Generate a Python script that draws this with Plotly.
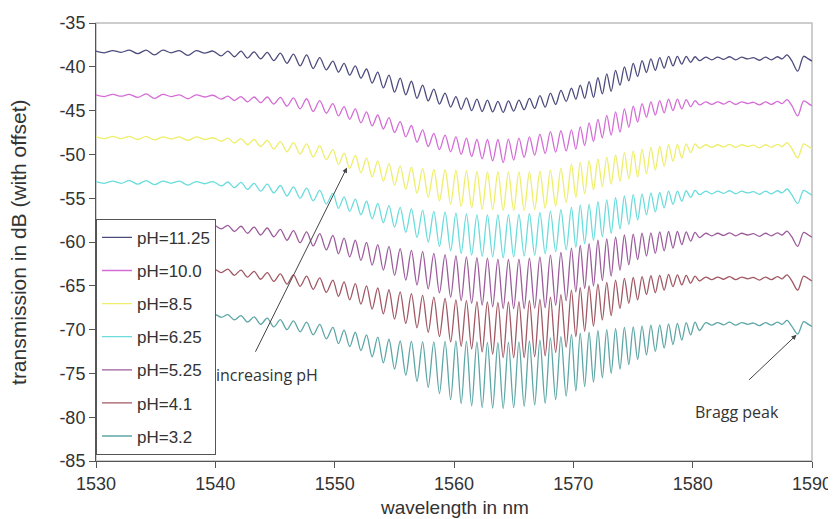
import plotly.graph_objects as go

# wavelength samples (nm) at successive fringe extrema
wavelength = [
    1530.0, 1530.7, 1531.4, 1532.1, 1532.8, 1533.5, 1534.2, 1534.9, 1535.6, 1536.3, 1537.0, 1537.7, 1538.4, 1539.1, 1539.8, 1540.5,
    1541.05, 1541.6, 1542.15, 1542.7, 1543.25, 1543.8, 1544.35, 1544.9, 1545.45, 1546.0, 1546.55, 1547.1, 1547.65, 1548.2, 1548.75, 1549.3, 1549.85,
    1550.32, 1550.79, 1551.26, 1551.73, 1552.2, 1552.67, 1553.14, 1553.61, 1554.08, 1554.55, 1555.02, 1555.49, 1555.96, 1556.43, 1556.9, 1557.37, 1557.84, 1558.31, 1558.78, 1559.25, 1559.72,
    1560.16, 1560.6, 1561.04, 1561.48, 1561.92, 1562.36, 1562.8, 1563.24, 1563.68, 1564.12, 1564.56, 1565.0, 1565.44, 1565.88, 1566.32, 1566.76, 1567.2, 1567.64, 1568.08, 1568.52, 1568.96, 1569.4, 1569.84,
    1570.21, 1570.58, 1570.95, 1571.32, 1571.69, 1572.06, 1572.43, 1572.8, 1573.17, 1573.54, 1573.91, 1574.28, 1574.65, 1575.02, 1575.39, 1575.76, 1576.13, 1576.5, 1576.87, 1577.24, 1577.61, 1577.98, 1578.35, 1578.72, 1579.09, 1579.46, 1579.83, 1580.2, 1580.57,
    1581.1, 1581.6, 1582.1, 1582.6, 1583.1, 1583.6, 1584.1, 1584.6, 1585.1, 1585.6, 1586.1, 1586.6, 1587.1, 1587.5, 1587.9, 1588.3, 1588.8, 1589.3, 1589.7, 1590.0,
]

ph_11_25 = [
    -38.2, -38.4, -38.15, -38.35, -38.1, -38.5, -38.1, -38.65, -38.1, -38.4, -38.15, -38.7, -38.15, -38.45, -38.2, -38.75,
    -38.2, -38.85, -38.2, -39.0, -38.3, -39.1, -38.35, -39.3, -38.45, -39.6, -38.55, -39.9, -38.65, -40.2, -38.95, -40.35, -39.35,
    -40.6, -39.6, -40.95, -39.9, -41.3, -40.25, -41.85, -40.6, -42.4, -40.95, -42.9, -41.3, -43.2, -41.65, -43.6, -42.1, -43.9, -42.55, -44.25, -43.0, -44.6,
    -43.4, -44.85, -43.55, -45.0, -43.7, -45.1, -43.8, -45.15, -43.95, -45.2, -43.9, -45.05, -43.8, -44.9, -43.6, -44.75, -43.3, -44.6, -43.0, -44.3, -42.7, -43.95, -42.45,
    -43.7, -42.1, -43.6, -41.7, -43.5, -41.25, -43.1, -40.8, -42.8, -40.4, -42.1, -40.0, -41.6, -39.6, -41.1, -39.3, -40.65, -39.1, -40.4, -38.95, -40.15, -38.8, -39.9, -38.8, -39.7, -38.8, -39.5, -38.85, -39.3,
    -38.9, -39.2, -38.9, -39.15, -38.85, -39.2, -38.9, -39.1, -38.95, -39.25, -38.9, -39.2, -38.85, -39.1, -38.65, -39.3, -40.5, -38.8, -39.1, -39.35,
]

ph_10_0 = [
    -43.2, -43.4, -43.15, -43.35, -43.15, -43.5, -43.1, -43.6, -43.15, -43.4, -43.2, -43.65, -43.2, -43.45, -43.25, -43.7,
    -43.35, -43.85, -43.4, -44.0, -43.45, -44.1, -43.45, -44.25, -43.5, -44.5, -43.55, -44.8, -43.65, -45.1, -43.85, -45.3, -44.2,
    -45.6, -44.55, -46.0, -44.8, -46.4, -45.15, -46.75, -45.5, -47.1, -45.8, -47.5, -46.25, -48.0, -46.7, -48.6, -47.2, -49.1, -47.6, -49.45, -47.8, -49.7,
    -48.0, -50.0, -48.15, -50.25, -48.3, -50.5, -48.3, -50.75, -48.3, -50.95, -48.25, -50.65, -48.15, -50.35, -48.0, -50.1, -47.7, -49.9, -47.4, -49.75, -47.3, -49.6, -47.2,
    -49.4, -46.85, -49.0, -46.4, -48.5, -46.0, -48.1, -45.55, -47.8, -45.15, -47.45, -44.8, -46.9, -44.5, -46.3, -44.2, -45.75, -44.0, -45.5, -43.85, -45.25, -43.7, -45.0, -43.7, -44.8, -43.75, -44.55, -43.85, -44.35,
    -44.0, -44.3, -44.0, -44.25, -43.95, -44.3, -44.0, -44.2, -44.05, -44.35, -44.0, -44.3, -43.95, -44.2, -43.75, -44.4, -45.6, -43.9, -44.2, -44.45,
]

ph_8_5 = [
    -48.0, -48.2, -47.95, -48.2, -47.95, -48.3, -47.95, -48.35, -48.0, -48.25, -48.0, -48.4, -48.0, -48.3, -48.1, -48.5,
    -48.15, -48.7, -48.2, -48.9, -48.3, -49.1, -48.4, -49.4, -48.55, -49.7, -48.65, -49.95, -48.8, -50.3, -49.0, -50.6, -49.45,
    -51.15, -49.85, -51.6, -50.1, -52.1, -50.4, -52.55, -50.75, -53.05, -51.05, -53.5, -51.3, -54.0, -51.45, -54.45, -51.6, -54.9, -51.7, -55.3, -51.75, -55.7,
    -51.8, -55.95, -51.85, -56.1, -51.95, -56.25, -52.0, -56.3, -52.0, -56.4, -52.0, -56.4, -52.0, -56.4, -52.0, -56.3, -51.9, -56.15, -51.8, -55.9, -51.6, -55.5, -51.1,
    -54.9, -50.9, -54.5, -50.7, -54.05, -50.5, -53.7, -50.3, -53.4, -50.05, -53.05, -49.8, -52.8, -49.6, -52.6, -49.4, -52.2, -49.2, -51.8, -49.05, -51.35, -48.9, -50.8, -48.85, -50.4, -48.8, -49.8, -48.8, -49.3,
    -48.9, -49.2, -48.9, -49.15, -48.85, -49.2, -48.9, -49.1, -48.95, -49.25, -48.9, -49.2, -48.85, -49.1, -48.65, -49.3, -50.4, -48.8, -49.1, -49.35,
]

ph_6_25 = [
    -53.1, -53.3, -53.05, -53.3, -53.0, -53.4, -53.0, -53.45, -53.05, -53.3, -53.05, -53.5, -53.1, -53.35, -53.1, -53.6,
    -53.15, -53.8, -53.2, -54.0, -53.3, -54.2, -53.4, -54.4, -53.55, -54.75, -53.7, -55.0, -53.85, -55.3, -54.1, -55.65, -54.45,
    -56.15, -54.85, -56.5, -55.1, -56.9, -55.35, -57.35, -55.6, -57.8, -55.85, -58.3, -56.05, -58.9, -56.2, -59.5, -56.35, -60.0, -56.5, -60.5, -56.6, -61.0,
    -56.7, -61.3, -56.8, -61.5, -56.9, -61.65, -56.9, -61.7, -56.9, -61.8, -56.9, -61.7, -56.85, -61.6, -56.75, -61.5, -56.65, -61.35, -56.5, -61.1, -56.3, -60.9, -56.05,
    -60.6, -55.8, -60.2, -55.7, -59.8, -55.4, -59.4, -55.2, -59.0, -54.95, -58.5, -54.75, -58.0, -54.6, -57.5, -54.5, -56.9, -54.4, -56.55, -54.35, -56.1, -54.2, -55.7, -54.2, -55.35, -54.15, -54.9, -54.1, -54.6,
    -54.2, -54.5, -54.2, -54.45, -54.15, -54.5, -54.2, -54.4, -54.25, -54.55, -54.2, -54.5, -54.15, -54.4, -53.95, -54.6, -55.6, -54.1, -54.4, -54.65,
]

ph_5_25 = [
    -58.0, -58.2, -57.95, -58.2, -57.95, -58.3, -57.9, -58.35, -57.95, -58.25, -58.0, -58.4, -58.0, -58.3, -58.0, -58.5,
    -58.1, -58.8, -58.2, -59.0, -58.3, -59.2, -58.4, -59.4, -58.55, -59.8, -58.7, -60.1, -58.85, -60.45, -59.05, -60.9, -59.25,
    -61.35, -59.55, -61.7, -59.8, -62.1, -60.05, -62.65, -60.3, -63.2, -60.5, -63.8, -60.75, -64.35, -60.95, -64.9, -61.1, -65.35, -61.3, -65.8, -61.45, -66.3,
    -61.6, -66.7, -61.7, -67.0, -61.8, -67.2, -61.85, -67.4, -61.95, -67.6, -62.0, -67.6, -61.95, -67.6, -61.85, -67.55, -61.7, -67.5, -61.5, -67.2, -61.2, -66.7, -60.7,
    -65.7, -60.4, -65.3, -60.2, -65.0, -59.8, -64.4, -59.65, -63.9, -59.45, -63.2, -59.2, -62.6, -59.1, -62.0, -59.0, -61.6, -58.95, -61.3, -58.85, -61.0, -58.8, -60.7, -58.8, -60.3, -58.85, -59.9, -58.9, -59.5,
    -59.0, -59.3, -59.0, -59.25, -58.95, -59.3, -59.0, -59.2, -59.05, -59.35, -59.0, -59.3, -58.95, -59.2, -58.75, -59.4, -60.5, -58.9, -59.2, -59.45,
]

ph_4_1 = [
    -63.0, -63.2, -62.95, -63.2, -62.95, -63.3, -62.9, -63.35, -62.95, -63.25, -63.0, -63.4, -63.0, -63.3, -63.0, -63.5,
    -63.1, -63.8, -63.2, -64.0, -63.35, -64.25, -63.5, -64.5, -63.65, -64.8, -63.75, -65.05, -63.9, -65.4, -64.1, -65.75, -64.35,
    -66.2, -64.55, -66.6, -64.75, -67.1, -65.0, -67.65, -65.25, -68.2, -65.45, -68.8, -65.7, -69.3, -65.9, -69.8, -66.1, -70.3, -66.3, -70.8, -66.45, -71.4,
    -66.6, -71.9, -66.7, -72.2, -66.8, -72.55, -66.85, -72.8, -66.9, -73.2, -66.85, -73.2, -66.8, -73.2, -66.7, -73.1, -66.55, -73.0, -66.3, -72.6, -66.0, -72.0, -65.5,
    -70.8, -65.2, -70.2, -65.0, -69.6, -64.8, -68.9, -64.6, -68.4, -64.35, -67.6, -64.15, -67.0, -64.05, -66.6, -63.95, -66.0, -63.85, -65.8, -63.8, -65.5, -63.7, -65.1, -63.75, -64.9, -63.8, -64.7, -63.9, -64.45,
    -64.0, -64.3, -64.0, -64.25, -63.95, -64.3, -64.0, -64.2, -64.05, -64.35, -64.0, -64.3, -63.95, -64.2, -63.75, -64.4, -65.5, -63.9, -64.2, -64.45,
]

ph_3_2 = [
    -68.1, -68.3, -68.05, -68.3, -68.0, -68.4, -68.0, -68.45, -68.05, -68.35, -68.1, -68.5, -68.1, -68.4, -68.15, -68.6,
    -68.3, -68.9, -68.4, -69.15, -68.55, -69.4, -68.7, -69.7, -68.85, -70.0, -69.0, -70.25, -69.15, -70.6, -69.4, -71.05, -69.75,
    -71.6, -70.05, -71.95, -70.3, -72.4, -70.6, -73.1, -70.85, -73.8, -71.1, -74.5, -71.3, -75.2, -71.35, -75.9, -71.4, -76.6, -71.4, -77.3, -71.35, -78.0,
    -71.3, -78.45, -71.35, -78.7, -71.4, -78.9, -71.45, -78.95, -71.5, -79.0, -71.45, -78.9, -71.4, -78.75, -71.3, -78.6, -71.2, -78.4, -70.95, -78.0, -70.8, -77.6, -70.55,
    -77.0, -70.4, -76.5, -70.3, -76.0, -70.1, -75.5, -70.0, -75.0, -69.9, -74.5, -69.75, -74.0, -69.7, -73.4, -69.6, -72.9, -69.5, -72.5, -69.45, -72.1, -69.35, -71.7, -69.3, -71.2, -69.2, -70.6, -69.15, -70.1,
    -69.2, -69.5, -69.2, -69.45, -69.15, -69.5, -69.2, -69.4, -69.25, -69.55, -69.2, -69.5, -69.15, -69.4, -68.95, -69.6, -70.5, -69.1, -69.4, -69.65,
]

series_names = ["pH=11.25", "pH=10.0", "pH=8.5", "pH=6.25", "pH=5.25", "pH=4.1", "pH=3.2"]
series_values = [ph_11_25, ph_10_0, ph_8_5, ph_6_25, ph_5_25, ph_4_1, ph_3_2]
series_colors = ["#4b4b7d", "#d46cd6", "#eeee6a", "#6adcdc", "#9c5c9c", "#a05864", "#5ea6a6"]

y_ticks = [-35, -40, -45, -50, -55, -60, -65, -70, -75, -80, -85]
x_ticks = [1530, 1540, 1550, 1560, 1570, 1580, 1590]

fig = go.Figure()
for name, vals, col in zip(series_names, series_values, series_colors):
    assert len(vals) == len(wavelength), (name, len(vals), len(wavelength))
    fig.add_trace(go.Scatter(
        x=wavelength, y=vals, name=name, mode="lines",
        line=dict(color=col, width=1.3, shape="spline", smoothing=0.9),
        legendgroup=name,
    ))

font_main = "Liberation Sans, Arial, sans-serif"
font_note = "Open Sans, Noto Sans, sans-serif"

# the page body adds an 8 px offset, so the figure is 8 px smaller than the window
fig.update_layout(
    width=828, height=511,
    margin=dict(l=88, r=24, t=15, b=58),
    paper_bgcolor="white", plot_bgcolor="white",
    font=dict(family=font_main, color="#333333"),
    showlegend=True,
    legend=dict(
        x=0, y=0.014, xanchor="left", yanchor="bottom",
        bgcolor="white", bordercolor="#555555", borderwidth=1,
        font=dict(size=17, family=font_main, color="#333333"),
        tracegroupgap=8, itemwidth=30,
    ),
    xaxis=dict(
        range=[1530, 1590], tickvals=x_ticks, ticktext=[str(v) for v in x_ticks],
        showgrid=False, zeroline=False, showline=True, linecolor="#555555", linewidth=1,
        ticks="outside", ticklen=6, tickcolor="#555555", automargin=False,
        tickfont=dict(size=18, family=font_main, color="#333333"),
    ),
    yaxis=dict(
        range=[-85, -35], tickvals=y_ticks, ticktext=[str(v) for v in y_ticks],
        showgrid=False, zeroline=False, showline=True, linecolor="#555555", linewidth=1,
        ticks="outside", ticklen=6, tickcolor="#555555", automargin=False,
        tickfont=dict(size=18, family=font_main, color="#333333"),
    ),
    shapes=[dict(type="rect", xref="paper", yref="paper", x0=0, y0=0, x1=1, y1=1,
                 line=dict(color="#bdbdbd", width=1.5), layer="below")],
    annotations=[
        dict(text="wavelength in nm", xref="paper", yref="paper", x=0.5, y=-0.107,
             xanchor="center", yanchor="middle", showarrow=False,
             font=dict(size=19, family=font_main, color="#333333")),
        dict(text="transmission in dB (with offset)", xref="paper", yref="paper",
             x=-0.109, y=0.5, xanchor="center", yanchor="middle", textangle=-90,
             showarrow=False, font=dict(size=21, family=font_main, color="#333333")),
        dict(text="increasing pH", x=1544.33, y=-75.17, xref="x", yref="y",
             showarrow=False, font=dict(size=16, family=font_note, color="#333333")),
        dict(text="", x=1551.03, y=-51.5, ax=1543.3, ay=-72.7, xref="x", yref="y",
             axref="x", ayref="y", showarrow=True, arrowhead=2, arrowsize=1,
             arrowwidth=1, arrowcolor="#444444"),
        dict(text="Bragg peak", x=1583.72, y=-79.4, xref="x", yref="y",
             showarrow=False, font=dict(size=16, family=font_note, color="#333333")),
        dict(text="", x=1588.7, y=-70.6, ax=1584.6, ay=-75.9, xref="x", yref="y",
             axref="x", ayref="y", showarrow=True, arrowhead=2, arrowsize=1,
             arrowwidth=1, arrowcolor="#444444"),
    ],
)

fig.write_html("out.html")
